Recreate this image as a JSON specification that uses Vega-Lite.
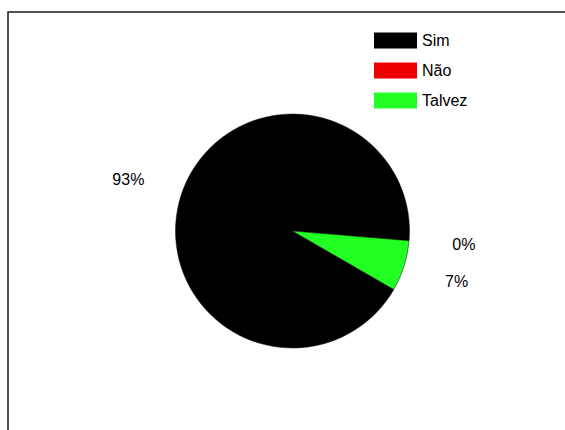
{
  "$schema": "https://vega.github.io/schema/vega-lite/v6.json",
  "width": 569,
  "height": 438,
  "autosize": {"type": "none"},
  "padding": {"left": 8, "top": 12, "right": -12, "bottom": -20},
  "background": "white",
  "view": {"stroke": "#1a1a1a", "strokeWidth": 1.5},
  "config": {
    "font": "Liberation Sans"
  },
  "data": {
    "values": [
      {"resposta": "Sim", "valor": 93, "ordem": 1, "rotulo": "93%"},
      {"resposta": "Não", "valor": 0, "ordem": 2, "rotulo": "0%"},
      {"resposta": "Talvez", "valor": 7, "ordem": 3, "rotulo": "7%"}
    ]
  },
  "encoding": {
    "theta": {"field": "valor", "type": "quantitative", "stack": true, "scale": {"range": [2.094, 8.377]}},
    "order": {"field": "ordem", "type": "quantitative"}
  },
  "layer": [
    {
      "mark": {"type": "arc", "outerRadius": 117, "stroke": "#111", "strokeWidth": 0.5},
      "encoding": {
        "color": {
          "field": "resposta",
          "type": "nominal",
          "scale": {"domain": ["Sim", "Não", "Talvez"], "range": ["#000000", "#ee0000", "#22ff22"]},
          "legend": {
            "title": null,
            "orient": "none",
            "legendX": 366,
            "legendY": 7,
            "padding": 0,
            "symbolType": "M-1,-0.37H1V0.37H-1Z",
            "symbolSize": 1849,
            "symbolStrokeWidth": 0,
            "labelFontSize": 16,
            "labelFont": "Liberation Sans",
            "labelColor": "#000",
            "labelOffset": 5,
            "rowPadding": -29
          }
        }
      }
    },
    {
      "mark": {"type": "text", "radius": 172, "fontSize": 16, "font": "Liberation Sans", "color": "#000"},
      "encoding": {
        "text": {"field": "rotulo", "type": "nominal"}
      }
    }
  ]
}
